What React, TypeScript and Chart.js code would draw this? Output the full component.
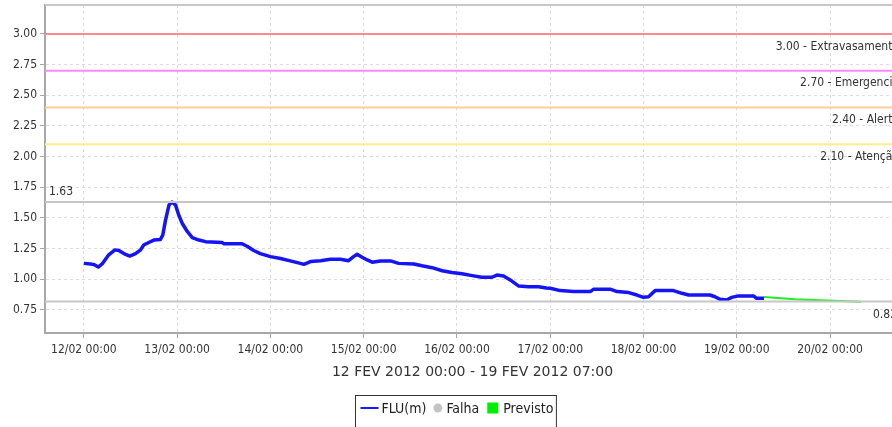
import React, { useEffect, useRef } from 'react';
import { Chart, registerables } from 'chart.js';

Chart.register(...registerables);

// ---- data ----
const xTickHours = [0, 24, 48, 72, 96, 120, 144, 168, 192];
const xTickLabels = [
  '12/02 00:00', '13/02 00:00', '14/02 00:00', '15/02 00:00', '16/02 00:00',
  '17/02 00:00', '18/02 00:00', '19/02 00:00', '20/02 00:00',
];
const yTickValues = [0.75, 1.0, 1.25, 1.5, 1.75, 2.0, 2.25, 2.5, 2.75, 3.0];

const thresholdValues = [3.0, 2.7, 2.4, 2.1];
const thresholdNames = ['Extravasamento', 'Emergencia', 'Alerta', 'Atenção'];

const maxLevel = 1.63;
const minLevel = 0.82;

const periodLabel = '12 FEV 2012 00:00 - 19 FEV 2012 07:00';
const legendNames = ['FLU(m)', 'Falha', 'Previsto'];

// hours since 12/02 00:00
const fluHours = [
  0, 1.7, 2.6, 3.7, 4.7, 6.4, 8, 9, 10.3, 11.8, 13.3, 14.6, 15.4, 16.7, 18, 19.7, 20.3, 21, 21.9, 22.7,
  23.6, 24.4, 25.3, 26.6, 27.9, 29.6, 31.3, 35.6, 36, 40.7, 42, 43.7, 45.4, 48, 50.6, 53.1, 55.7, 56.6,
  58.3, 60.9, 63.4, 66, 68.1, 69.4, 70.3, 71.6, 72.9, 74.2, 76.3, 78.9, 81, 84.9, 87, 89.6, 92.2, 94.7,
  97.3, 99.9, 102.4, 105, 106.3, 108, 109.7, 111.9, 114.4, 117, 119, 120, 122.6, 126, 130.3, 131.2, 135.4,
  137.2, 140.2, 142.3, 144, 145.3, 147, 151.7, 153.9, 155.6, 161.1, 162.4, 163.7, 165.4, 166.7, 168.4,
  172.3, 173.1, 175,
];
const fluValues = [
  1.13, 1.125, 1.12, 1.1, 1.125, 1.2, 1.24, 1.235, 1.21, 1.19, 1.21, 1.24, 1.28, 1.3, 1.32, 1.325, 1.36, 1.48, 1.605, 1.63,
  1.605, 1.525, 1.457, 1.39, 1.34, 1.32, 1.307, 1.3, 1.29, 1.29, 1.27, 1.235, 1.21, 1.185, 1.17, 1.15, 1.13, 1.122,
  1.145, 1.152, 1.163, 1.163, 1.152, 1.185, 1.204, 1.18, 1.158, 1.14, 1.15, 1.15, 1.13, 1.125, 1.11, 1.095, 1.07, 1.055,
  1.045, 1.03, 1.017, 1.017, 1.035, 1.027, 0.995, 0.945, 0.94, 0.94, 0.93, 0.927, 0.908, 0.9, 0.9, 0.92, 0.92,
  0.9, 0.892, 0.872, 0.853, 0.858, 0.908, 0.908, 0.886, 0.872, 0.872, 0.858, 0.837, 0.832, 0.853, 0.865,
  0.865, 0.845, 0.845,
];

const prevHours = [175, 183, 193, 200];
const prevValues = [0.855, 0.837, 0.826, 0.818];

// ---- styles ----
const FONT_C = "'DejaVu Sans Condensed', 'DejaVu Sans', sans-serif";
const FONT_R = "'DejaVu Sans', sans-serif";
const thresholdColors = ['#ff8a8a', '#ff88ff', '#ffcc99', '#ffee88'];
const X_MIN = -10;
const X_MAX = 210;

const overlayPlugin = {
  id: 'overlay',
  afterDraw(chart: any) {
    const { ctx, chartArea: a } = chart;
    const ys = chart.scales.y;
    ctx.save();
    // top frame line
    ctx.strokeStyle = '#c8c8c8';
    ctx.lineWidth = 2;
    ctx.beginPath();
    ctx.moveTo(a.left, a.top);
    ctx.lineTo(a.right, a.top);
    ctx.stroke();

    ctx.fillStyle = '#333';
    ctx.font = `12px ${FONT_C}`;
    ctx.textBaseline = 'middle';
    ctx.textAlign = 'right';
    thresholdValues.forEach((v, i) => {
      const py = ys.getPixelForValue(v);
      ctx.fillText(`${v.toFixed(2)} - ${thresholdNames[i]}`, a.right - 1, py + 12.5);
    });
    ctx.textAlign = 'left';
    ctx.fillText(maxLevel.toFixed(2), a.left + 4, ys.getPixelForValue(maxLevel) - 10);
    ctx.textAlign = 'right';
    ctx.fillText(minLevel.toFixed(2), a.right - 3, ys.getPixelForValue(minLevel) + 13);

    // legend
    ctx.font = `14px ${FONT_C}`;
    const w = legendNames.map((t) => ctx.measureText(t).width);
    const total = 5 + 18 + 3 + w[0] + 7 + 9 + 4 + w[1] + 8 + 11 + 5 + w[2] + 3;
    const cx = chart.width / 2;
    const left = Math.round(cx - total / 2) + 0.5;
    const top = 395.5;
    const my = 409;
    ctx.strokeStyle = '#333';
    ctx.lineWidth = 1;
    ctx.strokeRect(left, top, total, 40);
    let x = left + 5;
    ctx.strokeStyle = '#1a1aff';
    ctx.lineWidth = 2;
    ctx.beginPath();
    ctx.moveTo(x, my - 1);
    ctx.lineTo(x + 18, my - 1);
    ctx.stroke();
    x += 18 + 3;
    ctx.fillStyle = '#222';
    ctx.textAlign = 'left';
    ctx.fillText(legendNames[0], x, my);
    x += w[0] + 7;
    ctx.fillStyle = '#c4c4c4';
    ctx.beginPath();
    ctx.arc(x + 4.5, my - 1, 4.5, 0, Math.PI * 2);
    ctx.fill();
    x += 9 + 4;
    ctx.fillStyle = '#222';
    ctx.fillText(legendNames[1], x, my);
    x += w[1] + 8;
    ctx.fillStyle = '#00ee00';
    ctx.fillRect(x, my - 6.5, 11, 11);
    x += 11 + 5;
    ctx.fillStyle = '#222';
    ctx.fillText(legendNames[2], x, my);
    ctx.restore();
  },
};

export default function App() {
  const ref = useRef<HTMLCanvasElement>(null);
  useEffect(() => {
    document.body.style.margin = '0';
    const span = (v: number) => [{ x: X_MIN, y: v }, { x: X_MAX, y: v }];
    const datasets: any[] = [];
    thresholdValues.forEach((v, i) => {
      datasets.push({
        label: thresholdNames[i],
        data: span(v),
        borderColor: thresholdColors[i],
        borderWidth: 2,
        pointRadius: 0,
      });
    });
    [maxLevel, minLevel].forEach((v) => {
      datasets.push({ label: v.toFixed(2), data: span(v), borderColor: '#c6c6c6', borderWidth: 2, pointRadius: 0 });
    });
    datasets.push({
      label: legendNames[2],
      data: prevHours.map((h, i) => ({ x: h, y: prevValues[i] })),
      borderColor: '#22ee22',
      borderWidth: 2,
      pointRadius: 0,
    });
    datasets.push({
      label: legendNames[0],
      data: fluHours.map((h, i) => ({ x: h, y: fluValues[i] })),
      borderColor: '#1414f5',
      borderWidth: 3.5,
      pointRadius: 0,
      borderJoinStyle: 'round',
    });

    const chart = new Chart(ref.current!, {
      type: 'line',
      data: { datasets },
      options: {
        animation: false,
        responsive: false,
        layout: { padding: { top: 5, right: 10, left: 0, bottom: 0 } },
        plugins: { legend: { display: false }, tooltip: { enabled: false }, title: { display: false } },
        scales: {
          x: {
            type: 'linear',
            min: X_MIN,
            max: X_MAX,
            afterBuildTicks: (s: any) => {
              s.ticks = xTickHours.map((v) => ({ value: v }));
            },
            afterFit: (s: any) => {
              s.height = 94;
              s.paddingLeft = 0;
              s.paddingRight = 0;
            },
            ticks: {
              autoSkip: false,
              maxRotation: 0,
              padding: 5,
              color: '#333',
              font: { family: FONT_C, size: 12 },
              callback: (v: any) => {
                const i = xTickHours.indexOf(Number(v));
                return i >= 0 ? xTickLabels[i] : '';
              },
            },
            grid: { color: '#dcdcdc', lineWidth: 1, tickLength: 5, tickColor: '#a8a8a8', tickBorderDash: [] },
            border: { color: '#a8a8a8', width: 2, dash: [3, 3] },
            title: {
              display: true,
              text: periodLabel,
              color: '#333',
              font: { family: FONT_R, size: 14 },
              padding: { top: 0, bottom: 46 },
            },
          },
          y: {
            type: 'linear',
            min: 0.5625,
            max: 3.236,
            afterBuildTicks: (s: any) => {
              s.ticks = yTickValues.map((v) => ({ value: v }));
            },
            afterFit: (s: any) => {
              s.width = 45;
              s.paddingTop = 0;
              s.paddingBottom = 0;
            },
            ticks: {
              padding: 3,
              color: '#333',
              font: { family: FONT_C, size: 12 },
              callback: (v: any) => Number(v).toFixed(2),
            },
            grid: { color: '#dcdcdc', lineWidth: 1, tickLength: 5, tickColor: '#a8a8a8', tickBorderDash: [] },
            border: { color: '#a8a8a8', width: 2, dash: [3, 3] },
          },
        },
      },
      plugins: [overlayPlugin],
    } as any);
    return () => chart.destroy();
  }, []);
  return (
    <div style={{ width: 892, height: 427, overflow: 'hidden' }}>
      <canvas ref={ref} width={910} height={427} style={{ display: 'block' }} />
    </div>
  );
}
